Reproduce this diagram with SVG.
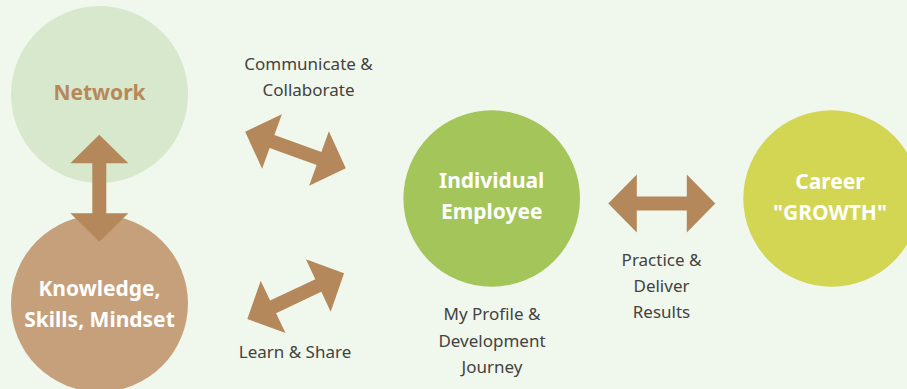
<svg xmlns="http://www.w3.org/2000/svg" width="907" height="389" viewBox="0 0 907 389">
<style>
.lbl{font-family:"Noto Sans","Open Sans",sans-serif;font-size:17px;fill:#444240;text-anchor:middle}
.nt{font-family:"Noto Sans","Open Sans",sans-serif;font-size:21px;font-weight:bold;text-anchor:middle;fill:#ffffff}
.arr{fill:#b5885c}
</style>
<defs>
<path id="dbl" d="M-53.5,0 L-25,-29 L-25,-7 L25,-7 L25,-29 L53.5,0 L25,29 L25,7 L-25,7 L-25,29 Z"/>
</defs>
<rect width="907" height="389" fill="#f0f7ec"/>
<g id="network">
<circle cx="99.5" cy="94.5" r="88.5" fill="#d7e8cc"/>
<text class="nt" x="99.5" y="99.5" style="fill:#b8875a">Network</text>
</g>
<g id="knowledge">
<circle cx="99.5" cy="303.5" r="88.5" fill="#c6a07b"/>
<text class="nt" x="99.5" y="296">Knowledge,</text>
<text class="nt" x="99.5" y="326.5">Skills, Mindset</text>
</g>
<g id="employee">
<circle cx="491.7" cy="198.5" r="88.3" fill="#a3c55a"/>
<text class="nt" x="491.7" y="188">Individual</text>
<text class="nt" x="491.7" y="218.5">Employee</text>
</g>
<g id="career">
<circle cx="831.6" cy="198.5" r="88.3" fill="#d2d653"/>
<text class="nt" x="830" y="188.5">Career</text>
<text class="nt" x="830" y="220">"GROWTH"</text>
</g>
<g id="connectors">
<use href="#dbl" class="arr" transform="translate(99.3,188.3) rotate(90)"/>
<use href="#dbl" class="arr" transform="translate(295.5,150) rotate(19.9)"/>
<use href="#dbl" class="arr" transform="translate(295.7,296.2) rotate(-25.3)"/>
<use href="#dbl" class="arr" transform="translate(661.8,203.5)"/>
</g>
<g id="labels">
<text class="lbl" x="308.5" y="70">Communicate &amp;</text>
<text class="lbl" x="308.5" y="96">Collaborate</text>
<text class="lbl" x="295" y="358.3">Learn &amp; Share</text>
<text class="lbl" x="492" y="320">My Profile &amp;</text>
<text class="lbl" x="492" y="346.7">Development</text>
<text class="lbl" x="492" y="373.3">Journey</text>
<text class="lbl" x="661.5" y="266">Practice &amp;</text>
<text class="lbl" x="661.5" y="292">Deliver</text>
<text class="lbl" x="661.5" y="318.3">Results</text>
</g>
</svg>
